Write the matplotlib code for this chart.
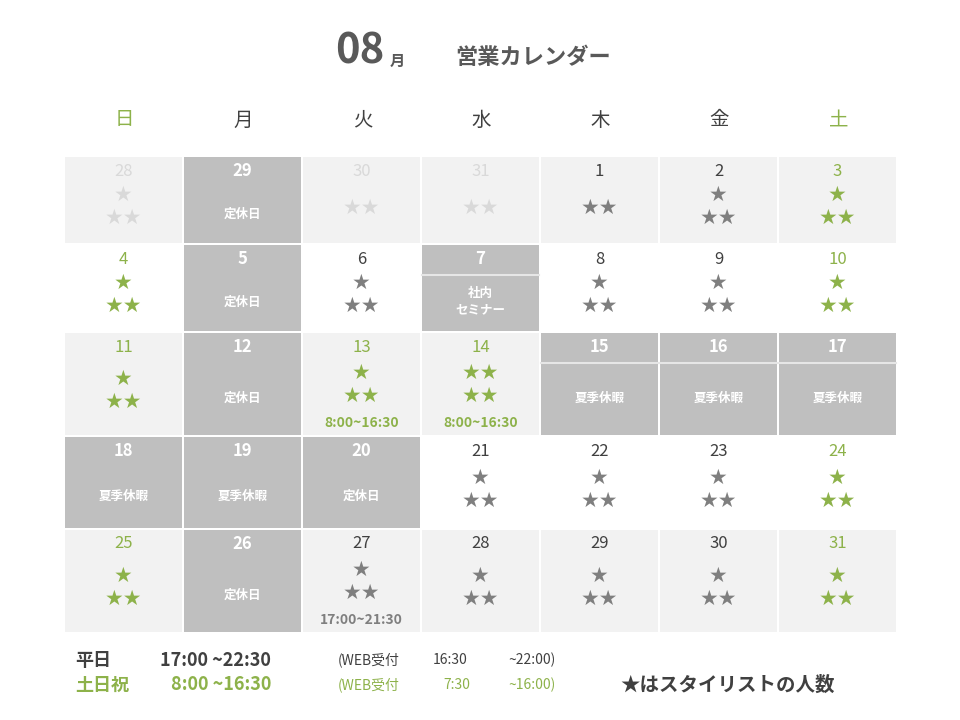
import matplotlib
matplotlib.use('Agg')
import matplotlib.pyplot as plt
from matplotlib.patches import Rectangle

plt.rcParams['font.family'] = ['Noto Sans CJK JP', 'DejaVu Sans']

GREEN = '#8db24a'
GRAY = '#7f7f7f'
DARK = '#404040'
FADE = '#d9d9d9'
LIGHT = '#f2f2f2'
CLOSED = '#bfbfbf'

weekdays = ['日', '月', '火', '水', '木', '金', '土']
days = [[28, 29, 30, 31, 1, 2, 3],
        [4, 5, 6, 7, 8, 9, 10],
        [11, 12, 13, 14, 15, 16, 17],
        [18, 19, 20, 21, 22, 23, 24],
        [25, 26, 27, 28, 29, 30, 31]]
# cell kind: f = previous month, l = light bg, w = white bg, c = closed
kinds = [['f', 'c', 'f', 'f', 'l', 'l', 'l'],
         ['w', 'c', 'w', 'c', 'w', 'w', 'w'],
         ['l', 'c', 'l', 'l', 'c', 'c', 'c'],
         ['c', 'c', 'c', 'w', 'w', 'w', 'w'],
         ['l', 'c', 'l', 'l', 'l', 'l', 'l']]
# star rows per cell
stars = [[['★', '★★'], None, ['★★'], ['★★'], ['★★'], ['★', '★★'], ['★', '★★']],
         [['★', '★★'], None, ['★', '★★'], None, ['★', '★★'], ['★', '★★'], ['★', '★★']],
         [['★', '★★'], None, ['★', '★★'], ['★★', '★★'], None, None, None],
         [None, None, None, ['★', '★★'], ['★', '★★'], ['★', '★★'], ['★', '★★']],
         [['★', '★★'], None, ['★', '★★'], ['★', '★★'], ['★', '★★'], ['★', '★★'], ['★', '★★']]]
closed_text = {(0, 1): '定休日', (1, 1): '定休日', (1, 3): '社内\nセミナー', (2, 1): '定休日',
               (2, 4): '夏季休暇', (2, 5): '夏季休暇', (2, 6): '夏季休暇',
               (3, 0): '夏季休暇', (3, 1): '夏季休暇', (3, 2): '定休日', (4, 1): '定休日'}
hours = {(2, 2): '8:00~16:30', (2, 3): '8:00~16:30', (4, 2): '17:00~21:30'}
green_days = {(2, 0), (2, 2), (2, 3)}  # holiday-ish green cells besides weekends

col_x = [65, 184, 303, 422, 541, 660, 779, 898]
row_y = [157, 245, 333, 437, 530, 634]

fig = plt.figure(figsize=(9.6, 7.2), dpi=100)
ax = fig.add_axes([0, 0, 1, 1])
ax.set_xlim(0, 960)
ax.set_ylim(720, 0)
ax.axis('off')

# title
ax.text(360, 52, '08', fontsize=30, fontweight='bold', color='#595959', ha='center', va='center')
ax.text(397, 61, '月', fontsize=11, fontweight='bold', color='#595959', ha='center', va='center')
ax.text(533, 58, '営業カレンダー', fontsize=16, fontweight='bold', color='#595959', ha='center', va='center')

for c, wd in enumerate(weekdays):
    xc = (col_x[c] + col_x[c + 1]) / 2
    color = GREEN if c in (0, 6) else DARK
    ax.text(xc, 120, wd, fontsize=14, color=color, ha='center', va='center')

for r in range(5):
    y0, y1 = row_y[r], row_y[r + 1] - 2
    for c in range(7):
        x0, x1 = col_x[c], col_x[c + 1] - 2
        xc = (x0 + x1) / 2
        k = kinds[r][c]
        bg = {'f': LIGHT, 'l': LIGHT, 'w': 'white', 'c': CLOSED}[k]
        ax.add_patch(Rectangle((x0, y0), x1 - x0, y1 - y0, color=bg, lw=0))
        if k == 'c':
            numcol, txtcol = 'white', 'white'
            if (r, c) in closed_text and (closed_text[(r, c)] == '夏季休暇' and r == 2 or (r, c) == (1, 3)):
                ax.plot([x0, x1], [y0 + 30, y0 + 30], color='#e6e6e6', lw=1.5)
        elif k == 'f':
            numcol = FADE
        elif c in (0, 6) or (r, c) in green_days:
            numcol = GREEN
        else:
            numcol = DARK
        ax.text(xc, y0 + 14, str(days[r][c]), fontsize=12, color=numcol, ha='center', va='center',
                fontweight='bold' if k == 'c' else 'normal')
        if k == 'c':
            ax.text(xc, (y0 + y1) / 2 + 14, closed_text[(r, c)], fontsize=9, color='white',
                    ha='center', va='center', fontweight='bold', linespacing=1.3)
            continue
        s = stars[r][c]
        if k == 'f':
            scol = FADE
        elif c in (0, 6) or (r, c) in green_days:
            scol = GREEN
        else:
            scol = GRAY
        has_h = (r, c) in hours
        mid = (y0 + y1) / 2 + (6 if not has_h else 0)
        if len(s) == 1:
            ys = [mid + 2]
        else:
            ys = [mid - 11, mid + 12]
        for line, yy in zip(s, ys):
            ax.text(xc, yy, line, fontsize=15, color=scol, ha='center', va='center',
                    family=['DejaVu Sans'])
        if has_h:
            ax.text(xc, y1 - 12, hours[(r, c)], fontsize=10, color=scol, ha='center',
                    va='center', fontweight='bold')

# legend / footer
ax.text(75, 660, '平日', fontsize=13, color=DARK, va='center', fontweight='bold')
ax.text(160, 660, '17:00 ~22:30', fontsize=13, color=DARK, va='center', fontweight='bold')
ax.text(338, 660, '(WEB受付', fontsize=10, color=DARK, va='center')
ax.text(433, 660, '16:30', fontsize=10, color=DARK, va='center')
ax.text(508, 660, '~22:00)', fontsize=10, color=DARK, va='center')
ax.text(75, 685, '土日祝', fontsize=13, color=GREEN, va='center', fontweight='bold')
ax.text(171, 685, '8:00 ~16:30', fontsize=13, color=GREEN, va='center', fontweight='bold')
ax.text(338, 685, '(WEB受付', fontsize=10, color=GREEN, va='center')
ax.text(443, 685, '7:30', fontsize=10, color=GREEN, va='center')
ax.text(508, 685, '~16:00)', fontsize=10, color=GREEN, va='center')
ax.text(620, 685, '★はスタイリストの人数', fontsize=14, color=DARK, va='center', fontweight='bold')

fig.savefig('out.png', dpi=100)
